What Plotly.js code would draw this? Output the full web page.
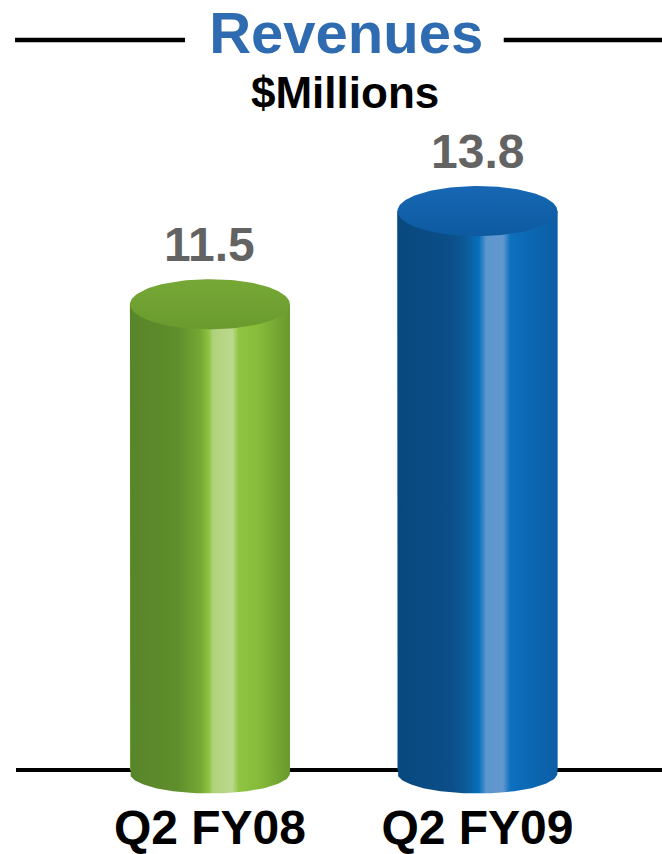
<!DOCTYPE html>
<html>
<head>
<meta charset="utf-8">
<script src="https://cdn.plot.ly/plotly-3.0.1.min.js"></script>
<style>html,body{margin:0;padding:0;background:#fff;}#chart{width:662px;height:854px;}</style>
</head>
<body>
<div id="chart"></div>
<script>
// ---- data ----
const categories = ['Q2 FY08', 'Q2 FY09'];
const revenues = [11.5, 13.8];
const valueLabels = ['11.5', '13.8'];
const titleText = 'Revenues';
const unitText = '$Millions';

// ---- styles ----
const FONT = 'Liberation Sans, Arial, Helvetica, sans-serif';
const bodyScales = [
  [[0, '#58852a'], [0.3, '#5f8e2c'], [0.44, '#74a834'], [0.49, '#8cc13f'], [0.52, '#b0d27c'], [0.64, '#bcd98d'], [0.68, '#8ec440'], [0.8, '#86bc3a'], [0.93, '#73a431'], [1, '#6a992d']],
  [[0, '#08487d'], [0.33, '#0b4e88'], [0.44, '#0d5c9c'], [0.51, '#0670bc'], [0.555, '#5d96ce'], [0.66, '#6298cf'], [0.705, '#0e70bf'], [0.85, '#0b66b1'], [1, '#0d5ea4']]
];
const topScales = [
  [[0, '#6a9a2e'], [1, '#76a836']],
  [[0, '#0d5aa0'], [1, '#1767b4']]
];
const baseColors = ['#7ab136', '#0c63ad'];
const halfW = 0.299;     // half bar width in x units
const topH = 0.62;       // top ellipse half height (y units)
const botH = 0.5;        // bottom ellipse half height
const botC = -0.08;      // bottom ellipse centre

const traces = [];
// plain bars (underneath), real data
traces.push({
  type: 'bar', x: categories.map((c, i) => i), y: revenues, width: halfW * 2,
  marker: {color: baseColors, line: {width: 0}}, hoverinfo: 'skip', showlegend: false
});

const N = 72;
revenues.forEach((v, i) => {
  // body outline
  const bx = [], by = [];
  bx.push(i - halfW); by.push(v);
  for (let k = 0; k <= N; k++) {
    const t = Math.PI * k / N;
    bx.push(i - halfW * Math.cos(t));
    by.push(botC - botH * Math.sin(t));
  }
  bx.push(i + halfW); by.push(v);
  traces.push({
    type: 'scatter', mode: 'lines', x: bx, y: by, fill: 'toself',
    fillgradient: {type: 'horizontal', colorscale: bodyScales[i], start: i - halfW, stop: i + halfW},
    line: {width: 0}, hoverinfo: 'skip', showlegend: false
  });
  // top ellipse
  const tx = [], ty = [];
  for (let k = 0; k <= 2 * N; k++) {
    const t = Math.PI * k / N;
    tx.push(i + halfW * Math.cos(t));
    ty.push(v + topH * Math.sin(t));
  }
  traces.push({
    type: 'scatter', mode: 'lines', x: tx, y: ty, fill: 'toself',
    fillgradient: {type: 'vertical', colorscale: topScales[i], start: v - topH, stop: v + topH},
    line: {width: 0}, hoverinfo: 'skip', showlegend: false
  });
});

const annotations = revenues.map((v, i) => ({
  x: i, y: v, xref: 'x', yref: 'y', text: valueLabels[i], showarrow: false,
  yshift: 60, yanchor: 'middle', xanchor: 'center',
  font: {family: FONT, size: 48, color: '#636363', weight: 'bold'}
}));
annotations.push({
  x: 0.509, y: 1.0368, xref: 'paper', yref: 'paper', text: unitText, showarrow: false,
  xanchor: 'center', yanchor: 'middle',
  font: {family: FONT, size: 44, color: '#000000', weight: 'bold'}
});

const layout = {
  width: 662, height: 854,
  margin: {l: 16, r: 0, t: 120, b: 0},
  paper_bgcolor: '#ffffff', plot_bgcolor: '#ffffff',
  showlegend: false,
  title: {
    text: titleText, x: 0.523, xref: 'container', xanchor: 'center',
    y: 0.9615, yref: 'container', yanchor: 'middle',
    font: {family: FONT, size: 58, color: '#2e6bb0', weight: 'bold'}
  },
  xaxis: {
    range: [-0.725, 1.69], tickmode: 'array', tickvals: categories.map((c, i) => i), ticktext: categories,
    showgrid: false, zeroline: false, showline: false, ticks: '',
    anchor: 'free', position: 0.08,
    tickfont: {family: FONT, size: 48, color: '#000000', weight: 'bold'}, fixedrange: true
  },
  yaxis: {
    range: [-2.074, 16.049], showgrid: false, showticklabels: false, ticks: '',
    zeroline: true, zerolinecolor: '#000000', zerolinewidth: 4, showline: false, fixedrange: true
  },
  annotations: annotations,
  shapes: [
    {type: 'line', xref: 'paper', yref: 'paper', x0: -0.0015, x1: 0.2616, y0: 1.109, y1: 1.109, line: {color: '#000000', width: 4.5}},
    {type: 'line', xref: 'paper', yref: 'paper', x0: 0.755, x1: 1.0, y0: 1.109, y1: 1.109, line: {color: '#000000', width: 4.5}}
  ]
};

Plotly.newPlot('chart', traces, layout, {staticPlot: true, displayModeBar: false});
</script>
</body>
</html>
